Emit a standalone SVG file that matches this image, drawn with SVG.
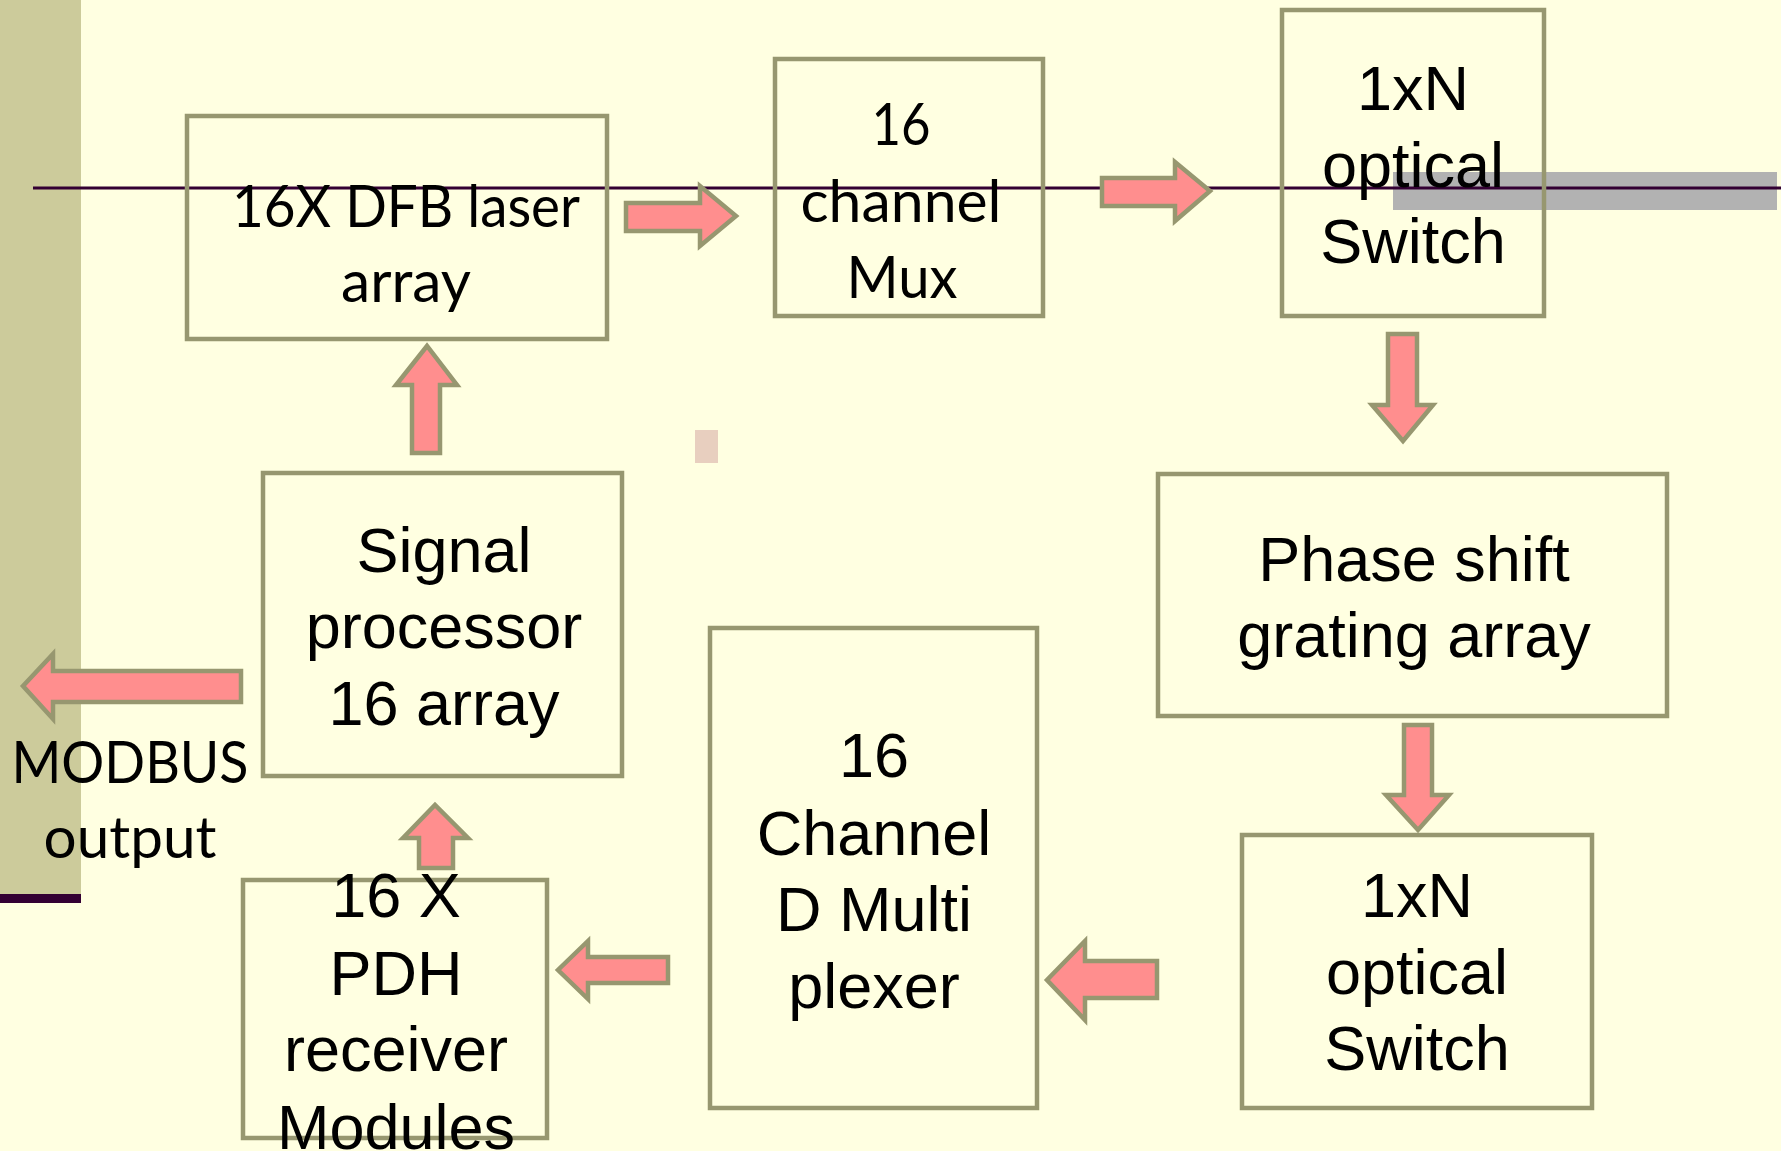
<svg xmlns="http://www.w3.org/2000/svg" width="1781" height="1151" viewBox="0 0 1781 1151">
  <style>
    .box { fill: none; stroke: #979770; stroke-width: 4.5; }
    .arr { fill: #FF8E8E; stroke: #979770; stroke-width: 4.5; stroke-linejoin: miter; }
    .ar { font-family: "Liberation Sans", Arial, sans-serif; font-size: 63px; fill: #000; text-anchor: middle; }
    .ca { font-family: Lato, "Open Sans", sans-serif; font-size: 59px; fill: #000; text-anchor: middle; }
  </style>
  <rect x="0" y="0" width="1781" height="1151" fill="#FFFFE1"/>
  <rect x="0" y="0" width="81" height="894" fill="#CCCB9B"/>
  <rect x="0" y="894" width="81" height="9" fill="#330033"/>
  <rect x="1393" y="172" width="384" height="38" fill="#B2B2B2"/>
  <line x1="33" y1="188" x2="1781" y2="188" stroke="#330033" stroke-width="3"/>
  <rect x="695" y="430" width="23" height="33" fill="#E8CFBF"/>

  <g id="dfb">
    <rect class="box" x="187" y="116" width="420" height="223"/>
    <text class="ca" x="406" y="227" textLength="348" lengthAdjust="spacingAndGlyphs">16X DFB laser</text>
    <text class="ca" x="406" y="302" textLength="130" lengthAdjust="spacingAndGlyphs">array</text>
  </g>
  <g id="mux">
    <rect class="box" x="775" y="59" width="268" height="257"/>
    <text class="ca" x="901" y="145" textLength="59" lengthAdjust="spacingAndGlyphs">16</text>
    <text class="ca" x="901" y="222" textLength="201" lengthAdjust="spacingAndGlyphs">channel</text>
    <text class="ca" x="902" y="298" textLength="111" lengthAdjust="spacingAndGlyphs">Mux</text>
  </g>
  <g id="switch-top">
    <rect class="box" x="1282" y="10" width="262" height="306"/>
    <text class="ar" x="1413" y="110">1xN</text>
    <text class="ar" x="1413" y="187">optical</text>
    <text class="ar" x="1413" y="263">Switch</text>
  </g>
  <g id="phase">
    <rect class="box" x="1158" y="474" width="509" height="242"/>
    <text class="ar" x="1414" y="581">Phase shift</text>
    <text class="ar" x="1414" y="657">grating array</text>
  </g>
  <g id="switch-bottom">
    <rect class="box" x="1242" y="835" width="350" height="273"/>
    <text class="ar" x="1417" y="917">1xN</text>
    <text class="ar" x="1417" y="994">optical</text>
    <text class="ar" x="1417" y="1070">Switch</text>
  </g>
  <g id="demux">
    <rect class="box" x="710" y="628" width="327" height="480"/>
    <text class="ar" x="874" y="777">16</text>
    <text class="ar" x="874" y="855">Channel</text>
    <text class="ar" x="874" y="931">D Multi</text>
    <text class="ar" x="874" y="1008">plexer</text>
  </g>
  <g id="signal">
    <rect class="box" x="263" y="473" width="359" height="303"/>
    <text class="ar" x="444" y="572">Signal</text>
    <text class="ar" x="444" y="648">processor</text>
    <text class="ar" x="444" y="725">16 array</text>
  </g>
  <g id="pdh">
    <rect class="box" x="243" y="880" width="304" height="258"/>
    <text class="ar" x="396" y="917">16 X</text>
    <text class="ar" x="396" y="995">PDH</text>
    <text class="ar" x="396" y="1071">receiver</text>
    <text class="ar" x="396" y="1149">Modules</text>
  </g>
  <g id="modbus">
    <text class="ca" x="130" y="783" textLength="237" lengthAdjust="spacingAndGlyphs">MODBUS</text>
    <text class="ca" x="130" y="858" textLength="173" lengthAdjust="spacingAndGlyphs">output</text>
  </g>

  <g id="connectors">
    <polygon class="arr" points="626,203 700,203 700,186 736,216 700,246 700,231 626,231"/>
    <polygon class="arr" points="1102,178 1175,178 1175,162 1210,191 1175,221 1175,206 1102,206"/>
    <polygon class="arr" points="1388,334 1417,334 1417,405 1433,405 1403,441 1372,405 1388,405"/>
    <polygon class="arr" points="1404,725 1432,725 1432,795 1449,795 1418,830 1386,795 1404,795"/>
    <polygon class="arr" points="1157,961 1085,961 1085,941 1047,980 1085,1020 1085,998 1157,998"/>
    <polygon class="arr" points="668,957 588,957 588,941 558,970 588,999 588,983 668,983"/>
    <polygon class="arr" points="419,868 419,838 403,838 435,805 468,838 453,838 453,868"/>
    <polygon class="arr" points="241,671 53,671 53,654 23,686 53,719 53,702 241,702"/>
    <polygon class="arr" points="412,453 412,385 396,385 427,346 457,385 440,385 440,453"/>
  </g>
</svg>
